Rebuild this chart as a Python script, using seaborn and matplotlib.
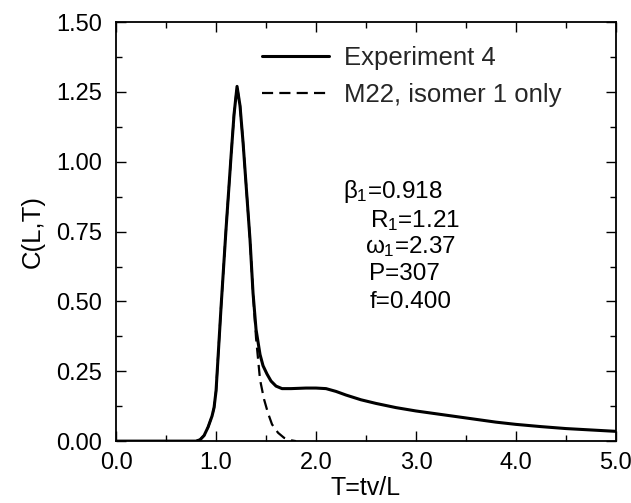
import numpy as np
import pandas as pd
import seaborn as sns
import matplotlib.pyplot as plt
from matplotlib.ticker import MultipleLocator

# Experiment 4 breakthrough curve
t_exp = [0.0, 0.80, 0.84, 0.88, 0.92, 0.96, 0.98, 1.00, 1.05, 1.10, 1.15, 1.18,
         1.21, 1.24, 1.27, 1.30, 1.34, 1.37, 1.40, 1.44, 1.47, 1.51, 1.55, 1.60,
         1.66, 1.75, 1.90, 2.00, 2.10, 2.20, 2.30, 2.45, 2.60, 2.80, 3.00, 3.20,
         3.40, 3.60, 3.80, 4.00, 4.25, 4.50, 4.75, 5.00]
c_exp = [0.0, 0.0, 0.005, 0.02, 0.05, 0.09, 0.12, 0.18, 0.48, 0.76, 1.02, 1.17,
         1.27, 1.20, 1.07, 0.92, 0.72, 0.53, 0.40, 0.31, 0.27, 0.24, 0.215, 0.197,
         0.188, 0.188, 0.19, 0.19, 0.188, 0.178, 0.165, 0.148, 0.135, 0.12, 0.108,
         0.098, 0.088, 0.078, 0.068, 0.06, 0.052, 0.045, 0.04, 0.035]

# M22 model, isomer 1 only
t_mod = [0.80, 0.84, 0.88, 0.92, 0.96, 0.98, 1.00, 1.05, 1.10, 1.15, 1.18, 1.21,
         1.24, 1.27, 1.30, 1.34, 1.37, 1.40, 1.44, 1.48, 1.52, 1.56, 1.62, 1.68,
         1.75, 1.80]
c_mod = [0.0, 0.005, 0.02, 0.05, 0.09, 0.12, 0.18, 0.48, 0.76, 1.02, 1.17, 1.27,
         1.20, 1.07, 0.92, 0.72, 0.53, 0.37, 0.22, 0.15, 0.10, 0.06, 0.03, 0.012,
         0.003, 0.0]

params = [r'$\beta_1$=0.918', r'R$_1$=1.21', r'$\omega_1$=2.37', 'P=307', 'f=0.400']
param_x = [2.27, 2.54, 2.49, 2.53, 2.54]
param_y = [0.894, 0.790, 0.695, 0.598, 0.499]

df_exp = pd.DataFrame({'T': t_exp, 'C': c_exp})
df_mod = pd.DataFrame({'T': t_mod, 'C': c_mod})

sns.set_theme(style='ticks')
plt.rcParams['font.family'] = ['Liberation Sans', 'DejaVu Sans']
plt.rcParams['mathtext.fontset'] = 'custom'
plt.rcParams['mathtext.rm'] = 'Liberation Sans'
plt.rcParams['mathtext.it'] = 'Liberation Sans'

fig = plt.figure(figsize=(6.31, 5.03), dpi=100)
ax = fig.add_axes([0.184, 0.123, 0.792, 0.833])

sns.lineplot(data=df_exp, x='T', y='C', ax=ax, color='black', lw=2.2,
             label='Experiment 4', estimator=None, sort=False)
sns.lineplot(data=df_mod, x='T', y='C', ax=ax, color='black', lw=1.6,
             linestyle=(0, (5, 2.8)), label='M22, isomer 1 only',
             estimator=None, sort=False)

for s, x, y in zip(params, param_x, param_y):
    ax.text(x, y, s, fontsize=17.5, va='center', ha='left', color='black')

ax.set_xlim(0, 5)
ax.set_ylim(0, 1.5)
ax.xaxis.set_major_locator(MultipleLocator(1.0))
ax.xaxis.set_minor_locator(MultipleLocator(0.5))
ax.yaxis.set_major_locator(MultipleLocator(0.25))
ax.yaxis.set_minor_locator(MultipleLocator(0.125))
ax.xaxis.set_major_formatter(plt.FormatStrFormatter('%.1f'))
ax.yaxis.set_major_formatter(plt.FormatStrFormatter('%.2f'))
ax.tick_params(which='both', direction='in', top=True, right=True,
               colors='black', labelsize=17, width=1.0)
ax.tick_params(which='major', length=7)
ax.tick_params(which='minor', length=4)
ax.tick_params(axis='y', which='major', pad=10)
ax.tick_params(axis='x', which='major', pad=8)
for sp in ax.spines.values():
    sp.set_visible(True)
    sp.set_color('black')
    sp.set_linewidth(1.3)

ax.set_xlabel('T=tv/L', fontsize=18, color='black', labelpad=1)
ax.set_ylabel('C(L,T)', fontsize=18.5, color='black', labelpad=8)

ax.legend(loc='upper left', bbox_to_anchor=(262 / 631, 1 - 46 / 503),
          bbox_transform=fig.transFigure, frameon=False, fontsize=18.5,
          handlelength=2.6, handletextpad=0.6, labelspacing=0.5,
          borderpad=0, borderaxespad=0)

fig.savefig('out.png', dpi=100)
